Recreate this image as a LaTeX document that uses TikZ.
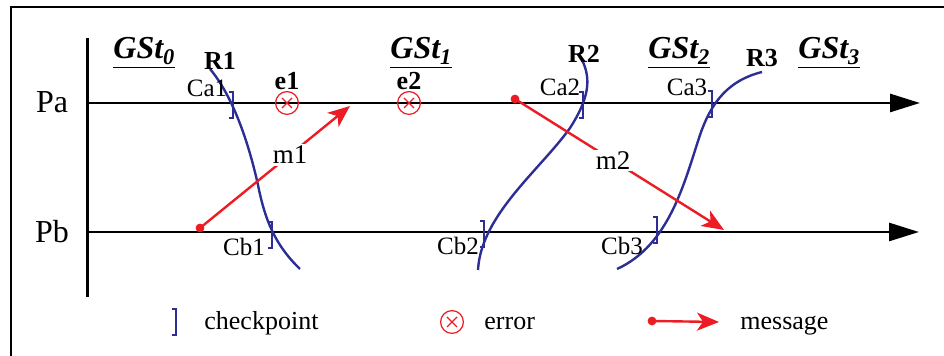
\documentclass[tikz,border=0pt]{standalone}
\usepackage{fontspec}
\setmainfont{Liberation Serif}
\usetikzlibrary{arrows.meta}
\definecolor{cutblue}{RGB}{45,45,150}
\definecolor{msgred}{RGB}{237,28,36}
\tikzset{
  timeline/.style={line width=1.4pt,-{Triangle[length=15pt,width=9pt]}},
  cutline/.style={cutblue,line width=1.2pt},
  msg/.style={msgred,line width=1.2pt,-{Stealth[length=11pt,width=9pt,inset=3pt]}},
  proc/.style={font=\fontsize{16}{18}\selectfont,inner sep=0pt,anchor=base},
  ckname/.style={font=\fontsize{12.5}{14}\selectfont,inner sep=0pt,anchor=base},
  cutname/.style={font=\fontsize{13}{15}\selectfont\bfseries,inner sep=0pt,anchor=base},
  gst/.style={font=\fontsize{16}{18}\selectfont\bfseries\itshape,inner sep=0pt,anchor=base west},
  msgname/.style={font=\fontsize{13.5}{15}\selectfont,text=black,fill=white,inner sep=1pt},
  legend/.style={font=\fontsize{13}{15}\selectfont,inner sep=0pt,anchor=base west},
  pics/ckpt/.style={code={
    \draw[cutblue,line width=0.6pt] (-4,-13) -- (0,-13) -- (0,13) -- (-4,13);}},
  pics/errmark/.style={code={
    \draw[msgred,line width=0.6pt] (0,0) circle (5.7pt)
      (-5,-5) -- (5,5) (-5,5) -- (5,-5);}},
}
\begin{document}
\begin{tikzpicture}[x=0.5pt,y=-0.5pt]
    \useasboundingbox (0,0) rectangle (944,356);
    % frame
    \draw[line width=0.7pt] (944,7) -- (11,7) -- (11,356);

    % process time lines
    \coordinate (top) at (87,38);
    \coordinate (bot) at (87,297);
    \coordinate (PaS) at (87,103);
    \coordinate (PaE) at (920,103);
    \coordinate (PbS) at (87,232);
    \coordinate (PbE) at (919,232);
    \draw[line width=1.5pt] (top) -- (bot);
    \draw[timeline] (PaS) -- (PaE);
    \draw[timeline] (PbS) -- (PbE);
    \node[proc] (Pa) at (52,113) {Pa};
    \node[proc] (Pb) at (52,243) {Pb};

    % global states
    \node[gst] (GSt0) at (113,59) {\underline{GSt\textsubscript{0}}};
    \node[gst] (GSt1) at (390,59) {\underline{GSt\textsubscript{1}}};
    \node[gst] (GSt2) at (648,59) {\underline{GSt\textsubscript{2}}};
    \node[gst] (GSt3) at (798,59) {\underline{GSt\textsubscript{3}}};

    % recovery lines
    \draw[cutline] (210,69) .. controls (232,95) and (248,140) .. (258,185)
        .. controls (265,220) and (275,245) .. (300,269);
    \draw[cutline] (582,60) .. controls (592,80) and (588,100) .. (570,128)
        .. controls (540,170) and (481,215) .. (478,270);
    \draw[cutline] (762,72) .. controls (730,80) and (712,100) .. (700,135)
        .. controls (685,180) and (670,245) .. (617,269);
    \node[cutname] (R1) at (220,70) {R1};
    \node[cutname] (R2) at (584,63) {R2};
    \node[cutname] (R3) at (762,67) {R3};

    % checkpoints
    \pic at (233,105) {ckpt};
    \pic at (583,105) {ckpt};
    \pic at (712,104) {ckpt};
    \pic at (272,235) {ckpt};
    \pic at (484,234) {ckpt};
    \pic at (657,230) {ckpt};
    \node[ckname] (Ca1) at (207,97) {Ca1};
    \node[ckname] (Ca2) at (560,96) {Ca2};
    \node[ckname] (Ca3) at (687,96) {Ca3};
    \node[ckname] (Cb1) at (244,256) {Cb1};
    \node[ckname] (Cb2) at (458,255) {Cb2};
    \node[ckname] (Cb3) at (622,255) {Cb3};

    % errors
    \pic at (287,103) {errmark};
    \pic at (409,103) {errmark};
    \node[cutname] (e1) at (287,90) {e1};
    \node[cutname] (e2) at (409,90) {e2};

    % messages
    \coordinate (m1s) at (200,228);
    \coordinate (m1e) at (350,106);
    \coordinate (m2s) at (515,99);
    \coordinate (m2e) at (724,230);
    \draw[msg] (m1s) -- node[msgname,pos=0.6] (m1) {m1} (m1e);
    \draw[msg] (m2s) -- node[msgname,pos=0.47] (m2) {m2} (m2e);
    \fill[msgred] (m1s) circle (2.2pt);
    \fill[msgred] (m2s) circle (2.2pt);

    % legend
    \pic at (176,322) {ckpt};
    \node[legend] (lgck) at (204,330) {checkpoint};
    \pic at (452,322) {errmark};
    \node[legend] (lger) at (484,330) {error};
    \coordinate (lgs) at (652,321);
    \coordinate (lge) at (719,322);
    \draw[msg] (lgs) -- (lge);
    \fill[msgred] (lgs) circle (2.2pt);
    \node[legend] (lgmsg) at (740,330) {message};
\end{tikzpicture}
\end{document}
